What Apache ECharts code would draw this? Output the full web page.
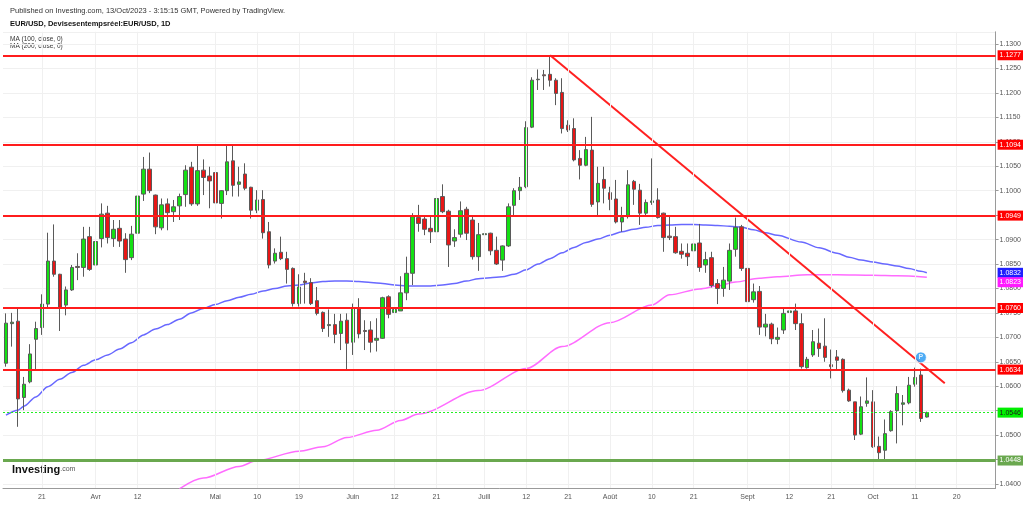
<!DOCTYPE html>
<html><head><meta charset="utf-8">
<script src="https://cdn.jsdelivr.net/npm/echarts@6.0.0/dist/echarts.min.js"></script>
<style>html,body{margin:0;padding:0;background:#fff}#c{width:1024px;height:505px}</style>
</head><body><div id="c"></div>
<script>
// [date, open, close, low, high]
const candles = [
["2023-03-13",1.0647,1.0729,1.0640,1.0749],["2023-03-14",1.0728,1.0731,1.0681,1.0750],
["2023-03-15",1.0733,1.0574,1.0517,1.0758],["2023-03-16",1.0577,1.0604,1.0551,1.0619],
["2023-03-17",1.0609,1.0666,1.0606,1.0686],["2023-03-20",1.0696,1.0718,1.0633,1.0732],
["2023-03-21",1.0720,1.0768,1.0705,1.0788],["2023-03-22",1.0768,1.0856,1.0759,1.0914],
["2023-03-23",1.0856,1.0829,1.0824,1.0931],["2023-03-24",1.0829,1.0760,1.0713,1.0830],
["2023-03-27",1.0766,1.0797,1.0745,1.0804],["2023-03-28",1.0797,1.0843,1.0795,1.0848],
["2023-03-29",1.0845,1.0843,1.0817,1.0872],["2023-03-30",1.0843,1.0901,1.0824,1.0926],
["2023-03-31",1.0906,1.0839,1.0836,1.0926],["2023-04-03",1.0848,1.0896,1.0789,1.0897],
["2023-04-04",1.0902,1.0952,1.0884,1.0974],["2023-04-05",1.0954,1.0904,1.0892,1.0969],
["2023-04-06",1.0902,1.0921,1.0885,1.0940],["2023-04-07",1.0923,1.0897,1.0885,1.0940],
["2023-04-10",1.0901,1.0859,1.0832,1.0913],["2023-04-11",1.0863,1.0911,1.0858,1.0928],
["2023-04-12",1.0913,1.0989,1.0912,1.1001],["2023-04-13",1.0993,1.1044,1.0979,1.1069],
["2023-04-14",1.1044,1.1000,1.0995,1.1078],["2023-04-17",1.0991,1.0926,1.0911,1.0992],
["2023-04-18",1.0924,1.0971,1.0919,1.0984],["2023-04-19",1.0973,1.0955,1.0919,1.0984],
["2023-04-20",1.0957,1.0967,1.0936,1.0981],["2023-04-21",1.0969,1.0988,1.0940,1.0994],
["2023-04-24",1.0992,1.1042,1.0967,1.1052],["2023-04-25",1.1048,1.0973,1.0969,1.1059],
["2023-04-26",1.0973,1.1041,1.0969,1.1093],["2023-04-27",1.1042,1.1027,1.0991,1.1064],
["2023-04-28",1.1030,1.1020,1.0964,1.1049],["2023-05-01",1.1037,1.0975,1.0966,1.1040],
["2023-05-02",1.0974,1.1000,1.0943,1.1001],["2023-05-03",1.1000,1.1059,1.0991,1.1093],
["2023-05-04",1.1061,1.1011,1.0988,1.1093],["2023-05-05",1.1013,1.1018,1.0988,1.1049],
["2023-05-08",1.1034,1.1005,1.1001,1.1056],["2023-05-09",1.1007,1.0960,1.0943,1.1008],
["2023-05-10",1.0960,1.0981,1.0954,1.1001],["2023-05-11",1.0982,1.0914,1.0902,1.1001],
["2023-05-12",1.0916,1.0848,1.0841,1.0936],["2023-05-15",1.0856,1.0872,1.0851,1.0882],
["2023-05-16",1.0874,1.0861,1.0858,1.0906],["2023-05-17",1.0861,1.0839,1.0810,1.0875],
["2023-05-18",1.0841,1.0769,1.0763,1.0843],["2023-05-19",1.0769,1.0803,1.0763,1.0829],
["2023-05-22",1.0815,1.0812,1.0769,1.0832],["2023-05-23",1.0812,1.0769,1.0766,1.0821],
["2023-05-24",1.0775,1.0749,1.0745,1.0803],["2023-05-25",1.0751,1.0718,1.0711,1.0753],
["2023-05-26",1.0724,1.0726,1.0701,1.0757],["2023-05-29",1.0726,1.0706,1.0688,1.0748],
["2023-05-30",1.0708,1.0733,1.0674,1.0748],["2023-05-31",1.0735,1.0688,1.0634,1.0749],
["2023-06-01",1.0690,1.0761,1.0664,1.0769],["2023-06-02",1.0761,1.0707,1.0698,1.0780],
["2023-06-05",1.0714,1.0712,1.0674,1.0735],["2023-06-06",1.0715,1.0690,1.0669,1.0733],
["2023-06-07",1.0694,1.0698,1.0671,1.0739],["2023-06-08",1.0698,1.0781,1.0697,1.0783],
["2023-06-09",1.0783,1.0747,1.0739,1.0786],["2023-06-12",1.0751,1.0757,1.0732,1.0763],
["2023-06-13",1.0754,1.0791,1.0754,1.0825],["2023-06-14",1.0791,1.0831,1.0776,1.0865],
["2023-06-15",1.0831,1.0947,1.0807,1.0954],["2023-06-16",1.0945,1.0933,1.0916,1.0971],
["2023-06-19",1.0942,1.0921,1.0909,1.0947],["2023-06-20",1.0923,1.0916,1.0893,1.0947],
["2023-06-21",1.0916,1.0984,1.0906,1.0994],["2023-06-22",1.0988,1.0957,1.0954,1.1013],
["2023-06-23",1.0958,1.0889,1.0844,1.0961],["2023-06-26",1.0897,1.0904,1.0885,1.0921],
["2023-06-27",1.0911,1.0959,1.0904,1.0978],["2023-06-28",1.0962,1.0913,1.0899,1.0967],
["2023-06-29",1.0940,1.0865,1.0859,1.0950],["2023-06-30",1.0865,1.0910,1.0836,1.0934],
["2023-07-03",1.0910,1.0912,1.0908,1.0934],["2023-07-04",1.0913,1.0877,1.0868,1.0914],
["2023-07-05",1.0878,1.0850,1.0848,1.0906],["2023-07-06",1.0858,1.0887,1.0836,1.0888],
["2023-07-07",1.0887,1.0967,1.0885,1.0974],["2023-07-10",1.0970,1.1000,1.0947,1.1005],
["2023-07-11",1.1000,1.1007,1.0981,1.1028],["2023-07-12",1.1008,1.1129,1.1005,1.1142],
["2023-07-13",1.1130,1.1226,1.1128,1.1232],["2023-07-14",1.1227,1.1228,1.1206,1.1248],
["2023-07-17",1.1237,1.1235,1.1206,1.1247],["2023-07-18",1.1238,1.1226,1.1213,1.1277],
["2023-07-19",1.1226,1.1199,1.1175,1.1230],["2023-07-20",1.1201,1.1127,1.1117,1.1230],
["2023-07-21",1.1134,1.1124,1.1120,1.1144],["2023-07-24",1.1127,1.1063,1.1060,1.1148],
["2023-07-25",1.1066,1.1052,1.1023,1.1083],["2023-07-26",1.1052,1.1084,1.1050,1.1110],
["2023-07-27",1.1083,1.0972,1.0967,1.1151],["2023-07-28",1.0977,1.1015,1.0947,1.1049],
["2023-07-31",1.1023,1.1005,1.0974,1.1049],["2023-08-01",1.0996,1.0982,1.0960,1.1008],
["2023-08-02",1.0983,1.0936,1.0933,1.1022],["2023-08-03",1.0936,1.0945,1.0916,1.0967],
["2023-08-04",1.0947,1.1012,1.0943,1.1042],["2023-08-07",1.1019,1.1003,1.0971,1.1022],
["2023-08-08",1.1001,1.0954,1.0930,1.1014],["2023-08-09",1.0954,1.0976,1.0950,1.0982],
["2023-08-10",1.0976,1.0979,1.0971,1.1066],["2023-08-11",1.0981,1.0945,1.0943,1.1005],
["2023-08-14",1.0954,1.0904,1.0875,1.0955],["2023-08-15",1.0907,1.0904,1.0899,1.0947],
["2023-08-16",1.0906,1.0873,1.0871,1.0926],["2023-08-17",1.0876,1.0870,1.0861,1.0892],
["2023-08-18",1.0872,1.0865,1.0846,1.0892],["2023-08-21",1.0877,1.0891,1.0872,1.0911],
["2023-08-22",1.0893,1.0843,1.0834,1.0932],["2023-08-23",1.0848,1.0859,1.0832,1.0875],
["2023-08-24",1.0863,1.0806,1.0802,1.0875],["2023-08-25",1.0810,1.0800,1.0768,1.0819],
["2023-08-28",1.0800,1.0817,1.0783,1.0844],["2023-08-29",1.0815,1.0878,1.0797,1.0892],
["2023-08-30",1.0880,1.0925,1.0865,1.0945],["2023-08-31",1.0926,1.0841,1.0836,1.0930],
["2023-09-01",1.0841,1.0773,1.0770,1.0844],["2023-09-04",1.0777,1.0793,1.0771,1.0810],
["2023-09-05",1.0794,1.0721,1.0705,1.0805],["2023-09-06",1.0721,1.0727,1.0702,1.0748],
["2023-09-07",1.0727,1.0697,1.0686,1.0730],["2023-09-08",1.0696,1.0700,1.0686,1.0720],
["2023-09-11",1.0715,1.0749,1.0707,1.0759],["2023-09-12",1.0751,1.0754,1.0749,1.0771],
["2023-09-13",1.0754,1.0728,1.0715,1.0769],["2023-09-14",1.0728,1.0640,1.0636,1.0749],
["2023-09-15",1.0638,1.0655,1.0636,1.0660],["2023-09-18",1.0664,1.0691,1.0660,1.0715],
["2023-09-19",1.0688,1.0677,1.0660,1.0718],["2023-09-20",1.0682,1.0659,1.0650,1.0739],
["2023-09-21",1.0644,1.0640,1.0616,1.0675],["2023-09-22",1.0660,1.0653,1.0633,1.0674],
["2023-09-25",1.0655,1.0591,1.0587,1.0657],["2023-09-26",1.0592,1.0570,1.0568,1.0595],
["2023-09-27",1.0568,1.0500,1.0490,1.0568],["2023-09-28",1.0502,1.0558,1.0500,1.0579],
["2023-09-29",1.0565,1.0570,1.0558,1.0618],["2023-10-02",1.0568,1.0476,1.0474,1.0592],
["2023-10-03",1.0477,1.0464,1.0449,1.0497],["2023-10-04",1.0469,1.0503,1.0449,1.0532],
["2023-10-05",1.0509,1.0548,1.0507,1.0551],["2023-10-06",1.0550,1.0585,1.0483,1.0600],
["2023-10-09",1.0563,1.0566,1.0520,1.0582],["2023-10-10",1.0566,1.0602,1.0563,1.0619],
["2023-10-11",1.0604,1.0618,1.0599,1.0638],["2023-10-12",1.0623,1.0534,1.0527,1.0636],
["2023-10-13",1.0537,1.0546,1.0536,1.0548]
];
const futureDates = ["2023-10-16","2023-10-17","2023-10-18","2023-10-19","2023-10-20",
  "2023-10-23","2023-10-24","2023-10-25","2023-10-26","2023-10-27","2023-10-30"];

const tickLabels = [["2023-03-21","21"],["2023-04-03","Avr"],["2023-04-12","12"],["2023-05-01","Mai"],
  ["2023-05-10","10"],["2023-05-19","19"],["2023-06-01","Juin"],["2023-06-12","12"],["2023-06-21","21"],
  ["2023-07-03","Juill"],["2023-07-12","12"],["2023-07-21","21"],["2023-08-01","Août"],["2023-08-10","10"],
  ["2023-08-21","21"],["2023-09-01","Sept"],["2023-09-12","12"],["2023-09-21","21"],["2023-10-02","Oct"],
  ["2023-10-11","11"],["2023-10-20","20"]];

const levelLines = [1.1277, 1.1094, 1.0949, 1.0760, 1.0634];
const supportLine = 1.0448;
const lastPrice = 1.0546;

const ma100 = [["2023-03-13",1.0541],["2023-03-15",1.0551],["2023-03-16",1.0559],["2023-03-20",1.0578],
["2023-03-22",1.0599],["2023-03-24",1.0614],["2023-03-28",1.0628],["2023-03-30",1.0643],["2023-04-03",1.0654],
["2023-04-05",1.0664],["2023-04-07",1.0676],["2023-04-11",1.0689],["2023-04-13",1.0705],["2023-04-17",1.0717],
["2023-04-19",1.0726],["2023-04-21",1.0737],["2023-04-25",1.0750],["2023-04-27",1.0759],["2023-05-01",1.0767],
["2023-05-03",1.0775],["2023-05-05",1.0782],["2023-05-09",1.0788],["2023-05-11",1.0795],["2023-05-15",1.0800],
["2023-05-17",1.0805],["2023-05-19",1.0807],["2023-05-23",1.0811],["2023-05-25",1.0814],["2023-05-29",1.0815],
["2023-05-31",1.0815],["2023-06-02",1.0814],["2023-06-06",1.0812],["2023-06-08",1.0810],["2023-06-12",1.0807],
["2023-06-14",1.0805],["2023-06-16",1.0805],["2023-06-20",1.0805],["2023-06-22",1.0807],["2023-06-26",1.0810],
["2023-06-28",1.0815],["2023-06-30",1.0820],["2023-07-04",1.0822],["2023-07-06",1.0824],["2023-07-10",1.0829],
["2023-07-12",1.0838],["2023-07-14",1.0850],["2023-07-18",1.0861],["2023-07-20",1.0873],["2023-07-24",1.0884],
["2023-07-26",1.0894],["2023-07-28",1.0901],["2023-08-01",1.0909],["2023-08-03",1.0916],["2023-08-07",1.0921],
["2023-08-09",1.0925],["2023-08-11",1.0929],["2023-08-15",1.0930],["2023-08-17",1.0931],["2023-08-21",1.0931],
["2023-08-23",1.0930],["2023-08-25",1.0929],["2023-08-29",1.0927],["2023-08-31",1.0925],["2023-09-04",1.0920],
["2023-09-06",1.0914],["2023-09-08",1.0909],["2023-09-14",1.0895],["2023-09-19",1.0883],["2023-09-22",1.0872],
["2023-09-26",1.0864],["2023-09-28",1.0858],["2023-10-02",1.0854],["2023-10-04",1.0850],["2023-10-06",1.0846],
["2023-10-10",1.0841],["2023-10-12",1.0835],["2023-10-13",1.0832]];

const ma200 = [["2023-04-21",1.0390],["2023-04-27",1.0412],["2023-05-05",1.0436],["2023-05-10",1.0448],
["2023-05-19",1.0467],["2023-05-25",1.0476],["2023-05-31",1.0495],["2023-06-07",1.0510],["2023-06-13",1.0530],
["2023-06-16",1.0543],["2023-06-30",1.0591],["2023-07-12",1.0636],["2023-07-20",1.0681],["2023-08-01",1.0730],
["2023-08-10",1.0766],["2023-08-15",1.0787],["2023-08-22",1.0799],["2023-08-25",1.0805],["2023-08-30",1.0813],
["2023-09-05",1.0821],["2023-09-08",1.0824],["2023-09-15",1.0828],["2023-09-22",1.0828],["2023-10-02",1.0827],
["2023-10-06",1.0826],["2023-10-13",1.0823]];

const trendLine = [["2023-07-18",1.1277],["2023-10-18",1.0606]];
const pMarker = ["2023-10-12",1.0659];

const allDates = candles.map(r => r[0]).concat(futureDates);
const ohlc = candles.map(r => [r[1], r[2], r[3], r[4]]);
const labelMap = new Map(tickLabels);
const isTick = (i, v) => labelMap.has(v);
const FONT = '"Liberation Sans", Arial, sans-serif';

function tag(bg, fg, dy) {
  return { show: true, position: 'end', distance: 2, offset: [0, dy || 0], formatter: p => Number(p.value).toFixed(4),
    backgroundColor: bg, color: fg, fontSize: 7, fontFamily: FONT, padding: [2, 2, 1, 2], borderRadius: 0 };
}

const chart = echarts.init(document.getElementById('c'), null, { renderer: 'canvas' });
chart.setOption({
  animation: false,
  backgroundColor: '#ffffff',
  textStyle: { fontFamily: FONT },
  grid: { left: 3, right: 28.3, top: 31.8, bottom: 17.1 },
  xAxis: {
    type: 'category', data: allDates, boundaryGap: true,
    axisLine: { lineStyle: { color: '#9a9a9a' } },
    axisTick: { interval: isTick, alignWithLabel: true, length: 3, lineStyle: { color: '#9a9a9a' } },
    axisLabel: { interval: isTick, formatter: v => labelMap.get(v) || '', fontSize: 7, color: '#555', margin: 6 },
    splitLine: { show: false }
  },
  yAxis: {
    type: 'value', position: 'right', min: 1.0392, max: 1.1325, splitNumber: 19,
    minInterval: 0.005, maxInterval: 0.005,
    axisLine: { show: true, lineStyle: { color: '#9a9a9a' } },
    axisTick: { show: true, length: 3, lineStyle: { color: '#9a9a9a' } },
    axisLabel: { formatter: v => v.toFixed(4), fontSize: 7, color: '#555', margin: 4, showMinLabel: false, showMaxLabel: false },
    splitLine: { lineStyle: { color: '#f0f0f0' } }
  },
  graphic: [
    { type: 'text', left: 10, top: 6.5, style: { text: 'Published on Investing.com, 13/Oct/2023 - 3:15:15 GMT, Powered by TradingView.', font: '7.5px ' + FONT, fill: '#333' } },
    { type: 'text', left: 10, top: 19.5, style: { text: 'EUR/USD, Devisesentempsréel:EUR/USD, 1D', font: 'bold 7.5px ' + FONT, fill: '#111' } },
    { type: 'text', left: 10, top: 35.5, style: { text: 'MA (100, close, 0)', font: '6.5px ' + FONT, fill: '#333' } },
    { type: 'text', left: 10, top: 42.5, style: { text: 'MA (200, close, 0)', font: '6.5px ' + FONT, fill: '#333' } },
    { type: 'text', left: 12, top: 464, style: { text: '{a|Investing}{b|.com}', rich: {
      a: { font: 'bold 11px ' + FONT, fill: '#111' },
      b: { font: '7px ' + FONT, fill: '#555' } } } }
  ],
  series: [
    {
      name: 'grid', type: 'line', data: [], z: 0, silent: true,
      markLine: { silent: true, symbol: ['none', 'none'], label: { show: false },
        lineStyle: { color: '#f0f0f0', width: 1, type: 'solid' },
        data: tickLabels.map(t => ({ xAxis: t[0] })) }
    },
    {
      name: 'MA100', type: 'line', data: ma100, symbol: 'none', smooth: 0.3, smoothMonotone: 'x', z: 1,
      lineStyle: { color: '#6868ff', width: 1.5 },
      markLine: { silent: true, precision: 4, symbol: ['none', 'none'], lineStyle: { color: 'rgba(0,0,0,0)' },
        data: [{ yAxis: ma100[ma100.length - 1][1], label: tag('#1f1fff', '#fff', 0) }] }
    },
    {
      name: 'MA200', type: 'line', data: ma200, symbol: 'none', smooth: 0.3, smoothMonotone: 'x', z: 1,
      lineStyle: { color: '#ff6cff', width: 1.5 },
      markLine: { silent: true, precision: 4, symbol: ['none', 'none'], lineStyle: { color: 'rgba(0,0,0,0)' },
        data: [{ yAxis: ma200[ma200.length - 1][1], label: tag('#ff1aff', '#fff', 5) }] }
    },
    {
      name: 'EUR/USD', type: 'candlestick', data: ohlc, barWidth: 4, z: 2,
      itemStyle: { color: '#14e014', color0: '#e81616', borderColor: '#5a5a5a', borderColor0: '#5a5a5a', borderWidth: 1 },
      markLine: {
        silent: true, precision: 4, symbol: ['none', 'none'],
        data: levelLines.map(v => ({ yAxis: v, lineStyle: { color: '#ff1c1c', width: 2, type: 'solid' }, label: tag('#ff0000', '#fff') }))
          .concat([
            { yAxis: lastPrice, lineStyle: { color: '#22ee22', width: 1, type: [2, 2] }, label: tag('#00ee00', '#1a1a1a') },
            { yAxis: supportLine, lineStyle: { color: '#6aa84f', width: 3, type: 'solid' }, label: tag('#6aa84f', '#fff') }
          ])
      }
    },
    {
      name: 'trend', type: 'line', data: trendLine, symbol: 'none', z: 3,
      lineStyle: { color: '#ff2020', width: 2 }
    },
    {
      name: 'P', type: 'scatter', data: [pMarker], symbol: 'circle', symbolSize: 11, z: 4,
      itemStyle: { color: '#2196f3', borderColor: '#fff', borderWidth: 1 },
      label: { show: true, position: 'inside', formatter: 'P', color: '#fff', fontSize: 7, fontWeight: 'bold' }
    }
  ]
});
</script>
</body></html>
